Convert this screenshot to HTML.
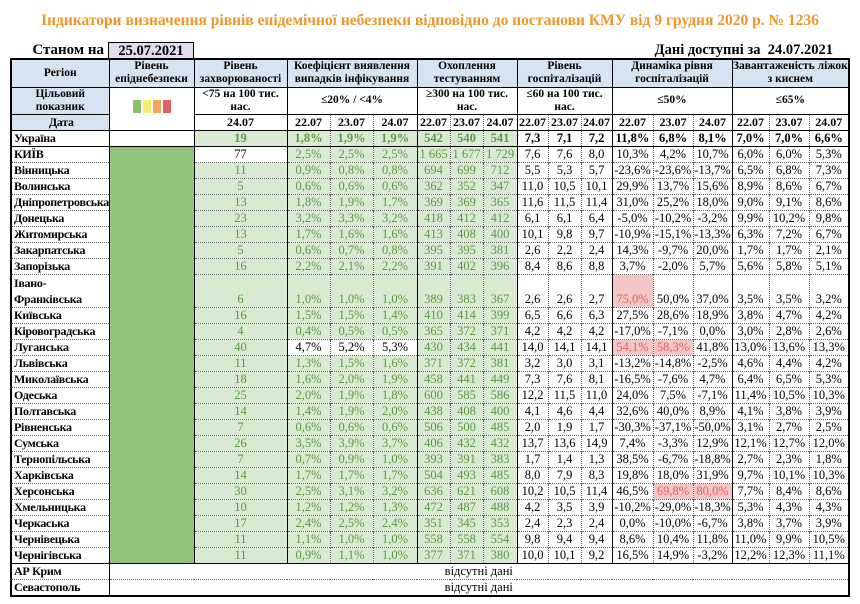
<!DOCTYPE html>
<html><head><meta charset="utf-8"><style>
body{margin:0;background:#fff;width:860px;height:604px;position:relative;overflow:hidden;font-family:"Liberation Serif",serif;}
.title{position:absolute;left:0;width:860px;top:12px;text-align:center;font-weight:bold;font-size:15.5px;color:#f0962e;}
.st{position:absolute;right:756px;top:42px;font-weight:bold;font-size:15px;line-height:16px;}
.dt{position:absolute;left:108px;top:42px;width:84px;height:15px;background:#e3dbef;border:1px solid #000;border-bottom:none;text-align:center;font-weight:bold;font-size:14.5px;line-height:16px;}
.av{position:absolute;right:27px;top:42px;font-weight:bold;font-size:14.5px;line-height:16px;}
table{position:absolute;left:10px;top:58px;border-collapse:collapse;table-layout:fixed;width:840px;border:2px solid #000;}
col.s{border-left:1px solid #000;}
td{padding:0;text-align:center;font-size:12.5px;line-height:15px;height:15px;border-top:1px dotted #666;border-left:1px dotted #666;white-space:nowrap;overflow:hidden;}
td:first-child{text-align:left;font-weight:bold;padding-left:2px;font-size:12px;letter-spacing:-0.3px;}
tr.h td{background:#d6e3f1;font-weight:bold;font-size:11.5px;line-height:13px;border-top:1px solid #000;text-align:center;padding:0;letter-spacing:0;}
tr.h2 td{font-weight:bold;font-size:11.5px;line-height:13px;border-top:1px solid #000;text-align:center;padding:0;letter-spacing:0;}
tr.h3 td{background:#d6e3f1;font-weight:bold;font-size:12px;border-top:1px solid #000;border-bottom:1px solid #000;}
tr.h3 td.w{background:#fff}
tr.u td{font-weight:bold;border-bottom:1px solid #000;}
.g{background:#d9ead3;color:#5d9a45;}
.p{background:#f4c7c7;color:#e06060;}
.lv{background:#93c47d;}
tr.last td{border-bottom:1px solid #000;}
tr.if td{vertical-align:bottom;}
.sq{display:inline-block;width:8px;height:13px;margin:0 1px;}
</style></head><body>
<div class="title">Індикатори визначення рівнів епідемічної небезпеки відповідно до постанови КМУ від 9 грудня 2020 р. № 1236</div>
<div class="st">Станом на</div>
<div class="dt">25.07.2021</div>
<div class="av">Дані доступні за&nbsp; 24.07.2021</div>
<table>
<colgroup>
<col style="width:98px"><col class="s" style="width:85px"><col class="s" style="width:93px">
<col class="s" style="width:43px"><col style="width:43px"><col style="width:44px">
<col class="s" style="width:33px"><col style="width:33px"><col style="width:34px">
<col class="s" style="width:31px"><col style="width:33px"><col style="width:31px">
<col class="s" style="width:41px"><col style="width:40px"><col style="width:39px">
<col class="s" style="width:37px"><col style="width:40px"><col style="width:40px">
</colgroup>
<tr class="h" style="height:28px"><td style="text-align:center">Регіон</td><td>Рівень<br>епіднебезпеки</td><td>Рівень<br>захворюваності</td><td colspan="3">Коефіцієнт виявлення<br>випадків інфікування</td><td colspan="3">Охоплення<br>тестуванням</td><td colspan="3">Рівень<br>госпіталізацій</td><td colspan="3">Динаміка рівня<br>госпіталізацій</td><td colspan="3">Завантаженість ліжок<br>з киснем</td></tr>
<tr class="h2" style="height:25px"><td style="background:#d6e3f1;text-align:center">Цільовий<br>показник</td><td rowspan="2" style="background:#fff;border-bottom:1px solid #000"><span class="sq" style="background:#8cc06c"></span><span class="sq" style="background:#f2ef72"></span><span class="sq" style="background:#f4a65c"></span><span class="sq" style="background:#e06464"></span></td><td>&lt;75 на 100 тис.<br>нас.</td><td colspan="3">≤20% / &lt;4%</td><td colspan="3">≥300 на 100 тис.<br>нас.</td><td colspan="3">≤60 на 100 тис.<br>нас.</td><td colspan="3">≤50%</td><td colspan="3">≤65%</td></tr>
<tr class="h3"><td style="text-align:center">Дата</td><td class="w">24.07</td><td class="w">22.07</td><td class="w">23.07</td><td class="w">24.07</td><td class="w">22.07</td><td class="w">23.07</td><td class="w">24.07</td><td class="w">22.07</td><td class="w">23.07</td><td class="w">24.07</td><td class="w">22.07</td><td class="w">23.07</td><td class="w">24.07</td><td class="w">22.07</td><td class="w">23.07</td><td class="w">24.07</td></tr>
<tr class="u"><td>Україна</td><td></td><td class="g">19</td><td class="g">1,8%</td><td class="g">1,9%</td><td class="g">1,9%</td><td class="g">542</td><td class="g">540</td><td class="g">541</td><td>7,3</td><td>7,1</td><td>7,2</td><td>11,8%</td><td>6,8%</td><td>8,1%</td><td>7,0%</td><td>7,0%</td><td>6,6%</td></tr>
<tr><td>КИЇВ</td><td class="lv" rowspan="25" style="border-bottom:1px solid #000"></td><td>77</td><td class="g">2,5%</td><td class="g">2,5%</td><td class="g">2,5%</td><td class="g">1 665</td><td class="g">1 677</td><td class="g">1 729</td><td>7,6</td><td>7,6</td><td>8,0</td><td>10,3%</td><td>4,2%</td><td>10,7%</td><td>6,0%</td><td>6,0%</td><td>5,3%</td></tr>
<tr><td>Вінницька</td><td class="g">11</td><td class="g">0,9%</td><td class="g">0,8%</td><td class="g">0,8%</td><td class="g">694</td><td class="g">699</td><td class="g">712</td><td>5,5</td><td>5,3</td><td>5,7</td><td>-23,6%</td><td>-23,6%</td><td>-13,7%</td><td>6,5%</td><td>6,8%</td><td>7,3%</td></tr>
<tr><td>Волинська</td><td class="g">5</td><td class="g">0,6%</td><td class="g">0,6%</td><td class="g">0,6%</td><td class="g">362</td><td class="g">352</td><td class="g">347</td><td>11,0</td><td>10,5</td><td>10,1</td><td>29,9%</td><td>13,7%</td><td>15,6%</td><td>8,9%</td><td>8,6%</td><td>6,7%</td></tr>
<tr><td>Дніпропетровська</td><td class="g">13</td><td class="g">1,8%</td><td class="g">1,9%</td><td class="g">1,7%</td><td class="g">369</td><td class="g">369</td><td class="g">365</td><td>11,6</td><td>11,5</td><td>11,4</td><td>31,0%</td><td>25,2%</td><td>18,0%</td><td>9,0%</td><td>9,1%</td><td>8,6%</td></tr>
<tr><td>Донецька</td><td class="g">23</td><td class="g">3,2%</td><td class="g">3,3%</td><td class="g">3,2%</td><td class="g">418</td><td class="g">412</td><td class="g">412</td><td>6,1</td><td>6,1</td><td>6,4</td><td>-5,0%</td><td>-10,2%</td><td>-3,2%</td><td>9,9%</td><td>10,2%</td><td>9,8%</td></tr>
<tr><td>Житомирська</td><td class="g">13</td><td class="g">1,7%</td><td class="g">1,6%</td><td class="g">1,6%</td><td class="g">413</td><td class="g">408</td><td class="g">400</td><td>10,1</td><td>9,8</td><td>9,7</td><td>-10,9%</td><td>-15,1%</td><td>-13,3%</td><td>6,3%</td><td>7,2%</td><td>6,7%</td></tr>
<tr><td>Закарпатська</td><td class="g">5</td><td class="g">0,6%</td><td class="g">0,7%</td><td class="g">0,8%</td><td class="g">395</td><td class="g">395</td><td class="g">381</td><td>2,6</td><td>2,2</td><td>2,4</td><td>14,3%</td><td>-9,7%</td><td>20,0%</td><td>1,7%</td><td>1,7%</td><td>2,1%</td></tr>
<tr><td>Запорізька</td><td class="g">16</td><td class="g">2,2%</td><td class="g">2,1%</td><td class="g">2,2%</td><td class="g">391</td><td class="g">402</td><td class="g">396</td><td>8,4</td><td>8,6</td><td>8,8</td><td>3,7%</td><td>-2,0%</td><td>5,7%</td><td>5,6%</td><td>5,8%</td><td>5,1%</td></tr>
<tr class="if" style="height:32px"><td style="line-height:16px">Івано-<br>Франківська</td><td class="g">6</td><td class="g">1,0%</td><td class="g">1,0%</td><td class="g">1,0%</td><td class="g">389</td><td class="g">383</td><td class="g">367</td><td>2,6</td><td>2,6</td><td>2,7</td><td class="p">75,0%</td><td>50,0%</td><td>37,0%</td><td>3,5%</td><td>3,5%</td><td>3,2%</td></tr>
<tr><td>Київська</td><td class="g">16</td><td class="g">1,5%</td><td class="g">1,5%</td><td class="g">1,4%</td><td class="g">410</td><td class="g">414</td><td class="g">399</td><td>6,5</td><td>6,6</td><td>6,3</td><td>27,5%</td><td>28,6%</td><td>18,9%</td><td>3,8%</td><td>4,7%</td><td>4,2%</td></tr>
<tr><td>Кіровоградська</td><td class="g">4</td><td class="g">0,4%</td><td class="g">0,5%</td><td class="g">0,5%</td><td class="g">365</td><td class="g">372</td><td class="g">371</td><td>4,2</td><td>4,2</td><td>4,2</td><td>-17,0%</td><td>-7,1%</td><td>0,0%</td><td>3,0%</td><td>2,8%</td><td>2,6%</td></tr>
<tr><td>Луганська</td><td class="g">40</td><td>4,7%</td><td>5,2%</td><td>5,3%</td><td class="g">430</td><td class="g">434</td><td class="g">441</td><td>14,0</td><td>14,1</td><td>14,1</td><td class="p">54,1%</td><td class="p">58,3%</td><td>41,8%</td><td>13,0%</td><td>13,6%</td><td>13,3%</td></tr>
<tr><td>Львівська</td><td class="g">11</td><td class="g">1,3%</td><td class="g">1,5%</td><td class="g">1,6%</td><td class="g">371</td><td class="g">372</td><td class="g">381</td><td>3,2</td><td>3,0</td><td>3,1</td><td>-13,2%</td><td>-14,8%</td><td>-2,5%</td><td>4,6%</td><td>4,4%</td><td>4,2%</td></tr>
<tr><td>Миколаївська</td><td class="g">18</td><td class="g">1,6%</td><td class="g">2,0%</td><td class="g">1,9%</td><td class="g">458</td><td class="g">441</td><td class="g">449</td><td>7,3</td><td>7,6</td><td>8,1</td><td>-16,5%</td><td>-7,6%</td><td>4,7%</td><td>6,4%</td><td>6,5%</td><td>5,3%</td></tr>
<tr><td>Одеська</td><td class="g">25</td><td class="g">2,0%</td><td class="g">1,9%</td><td class="g">1,8%</td><td class="g">600</td><td class="g">585</td><td class="g">586</td><td>12,2</td><td>11,5</td><td>11,0</td><td>24,0%</td><td>7,5%</td><td>-7,1%</td><td>11,4%</td><td>10,5%</td><td>10,3%</td></tr>
<tr><td>Полтавська</td><td class="g">14</td><td class="g">1,4%</td><td class="g">1,9%</td><td class="g">2,0%</td><td class="g">438</td><td class="g">408</td><td class="g">400</td><td>4,1</td><td>4,6</td><td>4,4</td><td>32,6%</td><td>40,0%</td><td>8,9%</td><td>4,1%</td><td>3,8%</td><td>3,9%</td></tr>
<tr><td>Рівненська</td><td class="g">7</td><td class="g">0,6%</td><td class="g">0,6%</td><td class="g">0,6%</td><td class="g">506</td><td class="g">500</td><td class="g">485</td><td>2,0</td><td>1,9</td><td>1,7</td><td>-30,3%</td><td>-37,1%</td><td>-50,0%</td><td>3,1%</td><td>2,7%</td><td>2,5%</td></tr>
<tr><td>Сумська</td><td class="g">26</td><td class="g">3,5%</td><td class="g">3,9%</td><td class="g">3,7%</td><td class="g">406</td><td class="g">432</td><td class="g">432</td><td>13,7</td><td>13,6</td><td>14,9</td><td>7,4%</td><td>-3,3%</td><td>12,9%</td><td>12,1%</td><td>12,7%</td><td>12,0%</td></tr>
<tr><td>Тернопільська</td><td class="g">7</td><td class="g">0,7%</td><td class="g">0,9%</td><td class="g">1,0%</td><td class="g">393</td><td class="g">391</td><td class="g">383</td><td>1,7</td><td>1,4</td><td>1,3</td><td>38,5%</td><td>-6,7%</td><td>-18,8%</td><td>2,7%</td><td>2,3%</td><td>1,8%</td></tr>
<tr><td>Харківська</td><td class="g">14</td><td class="g">1,7%</td><td class="g">1,7%</td><td class="g">1,7%</td><td class="g">504</td><td class="g">493</td><td class="g">485</td><td>8,0</td><td>7,9</td><td>8,3</td><td>19,8%</td><td>18,0%</td><td>31,9%</td><td>9,7%</td><td>10,1%</td><td>10,3%</td></tr>
<tr><td>Херсонська</td><td class="g">30</td><td class="g">2,5%</td><td class="g">3,1%</td><td class="g">3,2%</td><td class="g">636</td><td class="g">621</td><td class="g">608</td><td>10,2</td><td>10,5</td><td>11,4</td><td>46,5%</td><td class="p">69,8%</td><td class="p">80,0%</td><td>7,7%</td><td>8,4%</td><td>8,6%</td></tr>
<tr><td>Хмельницька</td><td class="g">10</td><td class="g">1,2%</td><td class="g">1,2%</td><td class="g">1,3%</td><td class="g">472</td><td class="g">487</td><td class="g">488</td><td>4,2</td><td>3,5</td><td>3,9</td><td>-10,2%</td><td>-29,0%</td><td>-18,3%</td><td>5,3%</td><td>4,3%</td><td>4,3%</td></tr>
<tr><td>Черкаська</td><td class="g">17</td><td class="g">2,4%</td><td class="g">2,5%</td><td class="g">2,4%</td><td class="g">351</td><td class="g">345</td><td class="g">353</td><td>2,4</td><td>2,3</td><td>2,4</td><td>0,0%</td><td>-10,0%</td><td>-6,7%</td><td>3,8%</td><td>3,7%</td><td>3,9%</td></tr>
<tr><td>Чернівецька</td><td class="g">11</td><td class="g">1,1%</td><td class="g">1,0%</td><td class="g">1,0%</td><td class="g">558</td><td class="g">558</td><td class="g">554</td><td>9,8</td><td>9,4</td><td>9,4</td><td>8,6%</td><td>10,4%</td><td>11,8%</td><td>11,0%</td><td>9,9%</td><td>10,5%</td></tr>
<tr class="last"><td>Чернігівська</td><td class="g">11</td><td class="g">0,9%</td><td class="g">1,1%</td><td class="g">1,0%</td><td class="g">377</td><td class="g">371</td><td class="g">380</td><td>10,0</td><td>10,1</td><td>9,2</td><td>16,5%</td><td>14,9%</td><td>-3,2%</td><td>12,2%</td><td>12,3%</td><td>11,1%</td></tr>
<tr><td>АР Крим</td><td colspan="17" style="border-left:1px solid #000">відсутні дані</td></tr>
<tr><td>Севастополь</td><td colspan="17" style="border-left:1px solid #000">відсутні дані</td></tr>
</table>
</body></html>
